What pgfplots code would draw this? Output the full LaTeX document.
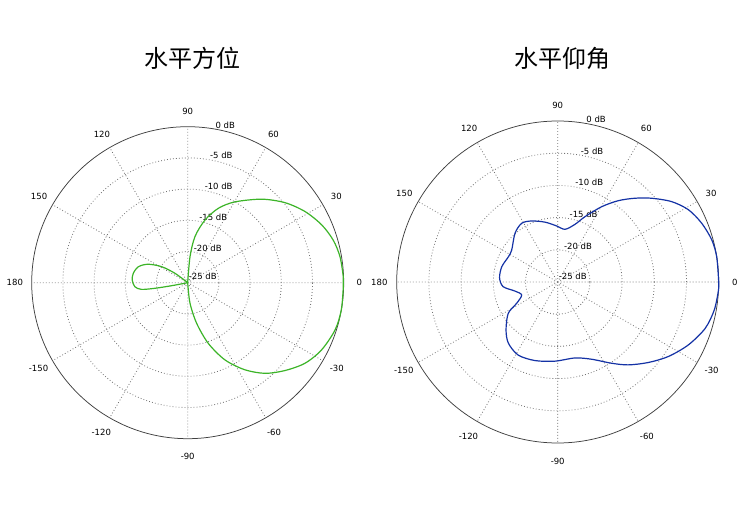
\documentclass[border=0pt]{standalone}
\usepackage{pgfplots}
\pgfplotsset{compat=1.18}
\usepgfplotslibrary{polar}
\usepackage{pgfplotstable}
\usepackage{fontspec}
\setmainfont{DejaVu Sans}
\newfontfamily\cjk{Noto Sans CJK SC}
\definecolor{pgreen}{RGB}{60,180,40}
\definecolor{pblue}{RGB}{20,50,165}

% left: main lobe (angle deg, gain dB)
\pgfplotstableread{
a d
-90 -25
-83.6 -21.7
-77.5 -18.3
-71.2 -14.7
-64.2 -11.25
-56.7 -8.3
-49.5 -5.9
-42.1 -4.0
-34.5 -2.2
-26.7 -1.0
-17.8 -0.2
-10.1 0
-1.5 -0.05
2.2 -0.05
9.7 -0.24
16.3 -0.7
23.3 -1.6
31.2 -3.0
39.4 -4.8
48.4 -7.1
59.7 -10.0
67.6 -12.1
74.6 -14.6
81.0 -17.5
84.9 -20.8
90 -25
}\greenmain
% left: back lobe
\pgfplotstableread{
a d
141 -25
143.5 -22.5
148.4 -20.1
155 -18.0
162 -16.7
170.2 -16.15
177.2 -16.1
184.3 -16.5
188.2 -17.5
189.7 -19.7
190.6 -22.4
192 -25
}\greenback
% right: elevation pattern
\pgfplotstableread{
a d
0 0
9 0
15.3 -0.2
22.2 -0.85
28.9 -1.8
35.2 -3.35
41.7 -5.45
47.3 -7.3
53.3 -9.25
59.7 -11.46
67.3 -14.0
73.3 -15.65
82.1 -16.74
91.0 -16.3
102 -15.5
113.1 -14.7
121.5 -14.3
131.2 -14.94
145.2 -16.3
152.9 -16.4
164.7 -16.0
176 -15.95
184.9 -16.5
191.9 -18.2
199.9 -19.05
207.5 -17.8
212.4 -15.9
222.9 -14.05
231.1 -12.8
241.6 -12.1
253.9 -12.3
268 -12.7
282.9 -12.9
293.7 -11.9
303.6 -9.85
310.4 -8.1
318.3 -6.2
326 -4.3
334.2 -2.5
342.5 -1.0
349.9 -0.3
357.1 0
360 0
}\blueelev

\pgfplotsset{
  mypolar/.style={
    scale only axis, width=#1, height=#1,
    anchor=center,
    ymin=0, ymax=25,
    xtick={0,30,...,330}, xticklabels={},
    ytick={5,10,15,20}, yticklabels={},
    grid=major,
    major grid style={black!55, line width=0.8pt, dash pattern=on 0.8pt off 2.2pt},
    separate axis lines,
    x axis line style={black!75, line width=0.75pt},
    y axis line style={draw=none},
    tick style={draw=none},
    clip=false,
  },
}
\newcommand{\lf}{\fontsize{8.5}{10}\selectfont}
\newcommand{\polarlabels}{%
  \node[font=\lf] at (axis cs:0,27.5) {0};
  \node[font=\lf] at (axis cs:30,27.5) {30};
  \node[font=\lf] at (axis cs:60,27.5) {60};
  \node[font=\lf] at (axis cs:90,27.4) {90};
  \node[font=\lf] at (axis cs:120,27.5) {120};
  \node[font=\lf] at (axis cs:150,27.5) {150};
  \node[font=\lf] at (axis cs:180,27.7) {180};
  \node[font=\lf] at (axis cs:210,27.6) {-150};
  \node[font=\lf] at (axis cs:240,27.7) {-120};
  \node[font=\lf] at (axis cs:270,27.8) {-90};
  \node[font=\lf] at (axis cs:300,27.7) {-60};
  \node[font=\lf] at (axis cs:330,27.6) {-30};
  \node[font=\lf, anchor=south west, inner sep=0.6pt] at (axis cs:80,25) {0 dB};
  \node[font=\lf, anchor=south west, inner sep=0.6pt] at (axis cs:80,20) {-5 dB};
  \node[font=\lf, anchor=south west, inner sep=0.6pt] at (axis cs:80,15) {-10 dB};
  \node[font=\lf, anchor=south west, inner sep=0.6pt] at (axis cs:80,10) {-15 dB};
  \node[font=\lf, anchor=south west, inner sep=0.6pt] at (axis cs:80,5) {-20 dB};
  \node[font=\lf, anchor=south west, inner sep=0.6pt] at (axis cs:80,0.3) {-25 dB};
}

\begin{document}
\begin{tikzpicture}
\path[use as bounding box, fill=white] (0,0) rectangle (750pt,525pt);

\node[font=\cjk\fontsize{24}{28}\selectfont] at (192.5pt,466.7pt) {水平方位};
\node[font=\cjk\fontsize{24}{28}\selectfont] at (562.5pt,467pt) {水平仰角};

\begin{polaraxis}[mypolar=312pt, at={(187.7pt,242.3pt)}]
  \polarlabels
  \addplot[pgreen, line width=1.2pt, smooth, no markers] table[x=a, y expr=\thisrow{d}+25] {\greenmain};
  \addplot[pgreen, line width=1.2pt, smooth, no markers] table[x=a, y expr=\thisrow{d}+25] {\greenback};
\end{polaraxis}

\begin{polaraxis}[mypolar=322pt, at={(557.7pt,243pt)}]
  \polarlabels
  \addplot[pblue, line width=1.2pt, smooth, no markers] table[x=a, y expr=\thisrow{d}+25] {\blueelev};
\end{polaraxis}
\end{tikzpicture}
\end{document}
